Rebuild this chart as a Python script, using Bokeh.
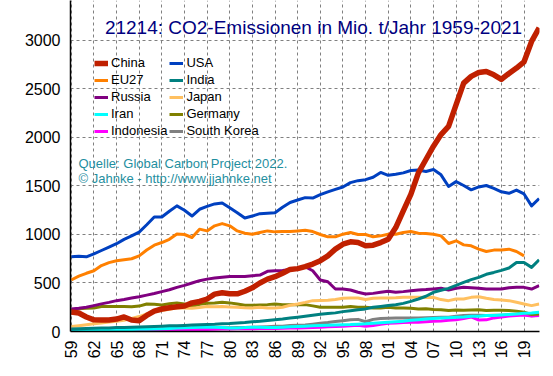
import math
from bokeh.plotting import figure
from bokeh.models import (Range1d, FixedTicker, Label, Legend, LegendItem)
from bokeh.embed import file_html
from bokeh.resources import INLINE

NaN = float("nan")

years = list(range(1959, 2022))

china = [200, 190, 150, 120, 118, 118, 128, 150, 118, 112,
         165, 210, 232, 245, 255, 262, 295, 310, 335, 385,
         400, 390, 388, 415, 450, 500, 540, 565, 600, 640,
         648, 668, 695, 730, 780, 849, 900, 924, 917, 883,
         890, 917, 952, 1071, 1243, 1414, 1636, 1773, 1910, 2030,
         2115, 2338, 2560, 2630, 2670, 2680, 2646, 2600, 2660, 2715,
         2780, 2990, 3130]

usa = [770, 775, 770, 800, 835, 870, 905, 950, 985, 1025,
       1100, 1180, 1180, 1240, 1295, 1250, 1190, 1260, 1290, 1315,
       1325, 1275, 1225, 1170, 1190, 1215, 1220, 1225, 1280, 1330,
       1355, 1380, 1375, 1410, 1440, 1465, 1490, 1535, 1555, 1565,
       1590, 1640, 1610, 1620, 1635, 1660, 1665, 1650, 1670, 1615,
       1495, 1545, 1505, 1460, 1490, 1505, 1475, 1440, 1425, 1458,
       1418, 1295, 1370]

eu27 = [531, 570, 600, 626, 680, 710, 729, 740, 750, 780,
        840, 890, 917, 950, 1005, 1000, 969, 1055, 1037, 1089,
        1112, 1089, 1037, 1013, 1003, 1020, 1037, 1027, 1030, 1030,
        1037, 1044, 1030, 1000, 976, 976, 1003, 1020, 1000, 1000,
        976, 986, 1003, 1003, 1020, 1030, 1013, 1010, 1003, 986,
        907, 935, 893, 883, 849, 825, 839, 839, 849, 825,
        780, NaN, NaN]

india = [25, 28, 30, 33, 35, 36, 40, 42, 44, 47,
         50, 52, 55, 58, 60, 63, 67, 70, 73, 75,
         80, 82, 88, 93, 100, 105, 113, 120, 128, 138,
         147, 157, 168, 178, 185, 192, 205, 215, 225, 233,
         250, 258, 267, 275, 290, 311, 335, 363, 404, 425,
         445, 475, 507, 535, 558, 590, 609, 630, 654, 712,
         712, 661, 739]

russia = [233, 240, 250, 267, 285, 300, 318, 330, 345, 359,
          375, 392, 411, 430, 455, 475, 500, 524, 540, 551,
          560, 568, 567, 567, 575, 582, 620, 625, 630, 640,
          645, 668, 626, 531, 513, 438, 438, 428, 404, 387,
          393, 404, 414, 404, 411, 421, 428, 432, 438, 445,
          428, 445, 455, 452, 445, 438, 438, 438, 452, 455,
          455, 438, 472]

japan = [51, 60, 70, 79, 88, 97, 106, 115, 135, 154,
         180, 205, 216, 228, 245, 243, 240, 248, 257, 255,
         257, 253, 250, 245, 243, 250, 243, 243, 250, 270,
         284, 300, 318, 320, 322, 329, 342, 346, 346, 329,
         342, 346, 346, 348, 352, 352, 352, 350, 352, 329,
         318, 335, 335, 352, 359, 342, 329, 325, 318, 301,
         284, 267, 284]

iran = [8, 10, 12, 13, 14, 15, 17, 19, 20, 22,
        24, 26, 28, 32, 36, 38, 40, 45, 47, 43,
        42, 35, 37, 40, 45, 44, 42, 40, 44, 48,
        52, 55, 58, 62, 65, 68, 70, 72, 76, 80,
        86, 90, 95, 100, 106, 115, 122, 130, 135, 140,
        143, 147, 150, 156, 158, 164, 165, 170, 176, 181,
        188, 191, 198]

germany = [222, 235, 240, 243, 257, 257, 257, 257, 255, 262,
           284, 280, 274, 285, 295, 284, 257, 280, 291, 295,
           301, 295, 284, 270, 270, 274, 277, 284, 277, 277,
           277, 277, 264, 250, 250, 250, 250, 257, 250, 250,
           243, 243, 250, 243, 243, 240, 233, 235, 228, 225,
           216, 222, 218, 222, 225, 216, 218, 218, 216, 210,
           198, 175, 181]

indonesia = [6, 6, 7, 7, 7, 7, 7, 7, 7, 8,
             9, 10, 11, 13, 15, 16, 17, 18, 20, 23,
             25, 27, 28, 28, 28, 30, 30, 32, 33, 35,
             35, 38, 42, 45, 48, 52, 55, 60, 65, 55,
             62, 75, 85, 88, 92, 96, 96, 100, 105, 108,
             115, 120, 135, 150, 118, 120, 140, 150, 160, 165,
             170, 160, 165]

south_korea = [3, 3, 4, 4, 5, 5, 6, 7, 9, 11,
               13, 15, 17, 18, 21, 22, 25, 27, 31, 34,
               38, 38, 40, 41, 44, 47, 50, 53, 55, 61,
               65, 68, 76, 85, 92, 102, 111, 120, 125, 100,
               125, 135, 137, 138, 138, 140, 140, 142, 145, 147,
               148, 158, 165, 167, 167, 166, 168, 168, 172, 177,
               175, 163, 168]

series_names = ["China", "USA", "EU27", "India", "Russia", "Japan",
                "Iran", "Germany", "Indonesia", "South Korea"]
series_values = [china, usa, eu27, india, russia, japan,
                 iran, germany, indonesia, south_korea]
series_colors = ["#C02000", "#0040C0", "#FF8000", "#008080", "#800080",
                 "#FFC060", "#00FFFF", "#808000", "#FF00FF", "#808080"]

x_ticks = list(range(1959, 2020, 3))
x_tick_labels = {t: "%02d" % (t % 100) for t in x_ticks}
y_ticks = [0, 500, 1000, 1500, 2000, 2500, 3000]

title_text = "21214: CO2-Emissionen in Mio. t/Jahr 1959-2021"
source_lines = ["Quelle: Global Carbon Project 2022.",
                "\u00a9 Jahnke - http://www.jjahnke.net"]

FONT = "Liberation Sans"

p = figure(width=545, height=368, output_backend="svg", toolbar_location=None,
           x_range=Range1d(1958.9, 2021.05), y_range=Range1d(0, 3412),
           min_border_left=70, min_border_right=6, min_border_top=0,
           min_border_bottom=37)
p.outline_line_color = None
p.background_fill_color = "white"

# grid
p.xgrid.ticker = FixedTicker(ticks=x_ticks)
p.ygrid.ticker = FixedTicker(ticks=y_ticks)
for g in (p.xgrid, p.ygrid):
    g.grid_line_color = "#808080"
    g.grid_line_dash = "3 3"
    g.grid_line_width = 1

# axes
p.xaxis.ticker = FixedTicker(ticks=x_ticks)
p.xaxis.major_label_overrides = x_tick_labels
p.xaxis.major_label_orientation = math.pi / 2
p.yaxis.ticker = FixedTicker(ticks=y_ticks)
for ax in (p.xaxis, p.yaxis):
    ax.axis_line_color = "black"
    ax.axis_line_width = 1.5
    ax.major_tick_out = 0
    ax.major_tick_in = 0
    ax.minor_tick_out = 0
    ax.minor_tick_in = 0
    ax.major_label_text_font = FONT
    ax.major_label_text_font_size = "16px"
    ax.major_label_text_color = "black"
p.yaxis.major_label_standoff = 10
p.xaxis.major_label_standoff = 9

# lines (drawn back to front, China on top)
renderers = {}
draw_order = list(range(len(series_names)))[::-1]
for i in draw_order:
    lw = 5.5 if series_names[i] == "China" else 3
    r = p.line(years, series_values[i], line_color=series_colors[i],
               line_width=lw, line_join="round")
    renderers[series_names[i]] = r

# legend: Bokeh fills columns first, so order items column by column
legend_order = [series_names[i] for i in (0, 2, 4, 6, 8, 1, 3, 5, 7, 9)]
items = [LegendItem(label=n, renderers=[renderers[n]]) for n in legend_order]
legend = Legend(items=items, ncols=2, location=(24, 193),
                background_fill_alpha=0, border_line_alpha=0,
                padding=0, margin=0, spacing=2, glyph_width=14, glyph_height=14,
                label_standoff=3, label_text_font=FONT,
                label_text_font_size="13px", label_height=14,
                label_text_color="black")
p.add_layout(legend, "center")

p.add_layout(Label(x=243, y=304, x_units="screen", y_units="screen",
                   text=title_text, text_align="center",
                   text_baseline="alphabetic", text_font=FONT,
                   text_font_size="19px", text_color="#000080"))
for k, line in enumerate(source_lines):
    p.add_layout(Label(x=8, y=168 - 15 * k, x_units="screen", y_units="screen",
                       text=line, text_align="left",
                       text_baseline="alphabetic", text_font=FONT,
                       text_font_size="13px", text_color="#1F8F9F"))

open("out.html", "w").write(file_html(p, INLINE))
